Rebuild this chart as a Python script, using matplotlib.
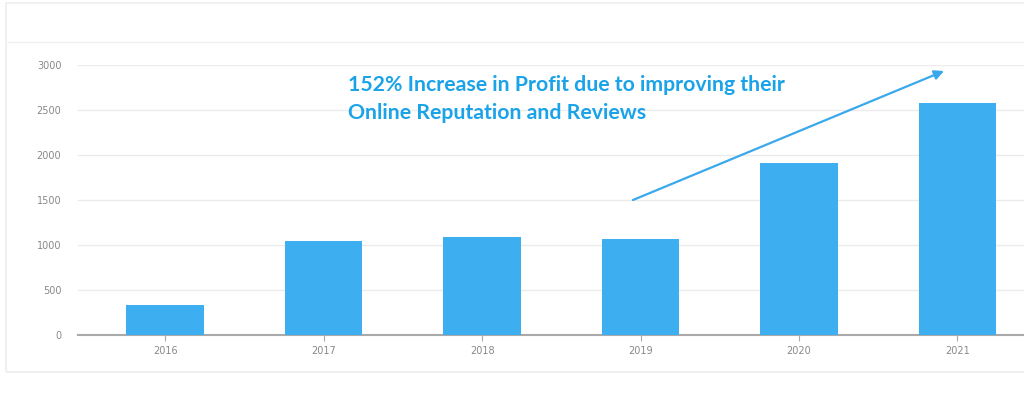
import matplotlib.pyplot as plt
from matplotlib.patches import Rectangle

years = ['2016', '2017', '2018', '2019', '2020', '2021']
profit = [333, 1044, 1089, 1063, 1914, 2574]
y_ticks = [0, 500, 1000, 1500, 2000, 2500, 3000]
note = '152% Increase in Profit due to improving their\nOnline Reputation and Reviews'

fig = plt.figure(figsize=(10.24, 3.97), dpi=100)
W, H = 1024, 397

# light frame around the chart card
fig.add_artist(Rectangle((6 / W, 1 - 372 / H), 1.1, (372 - 3) / H, transform=fig.transFigure,
                         fill=False, ec='#eeeeee', lw=1.2))
fig.add_artist(plt.Line2D([6 / W, 1], [1 - 42 / H] * 2, transform=fig.transFigure,
                          color='#f2f2f2', lw=1))

ax = fig.add_axes([78 / W, 1 - 335 / H, (1024 - 78) / W, 270 / H])
x = range(len(years))
ax.bar(x, profit, width=0.49, color='#3daef0', zorder=3)
ax.set_xlim(-0.55, 5.42)
ax.set_ylim(0, 3000)
ax.set_yticks(y_ticks)
ax.set_xticks(list(x))
ax.set_xticklabels(years)
ax.grid(axis='y', color='#ebebeb', lw=1, zorder=0)
for s in ['top', 'right', 'left']:
    ax.spines[s].set_visible(False)
ax.spines['bottom'].set_color('#aaaaaa')
ax.spines['bottom'].set_linewidth(1.5)
ax.tick_params(axis='y', length=0, pad=12, labelsize=7, labelcolor='#888888')
ax.tick_params(axis='x', length=4, color='#aaaaaa', pad=4, labelsize=7, labelcolor='#888888')

ax.text(348 / W, 1 - 75 / H, note, transform=fig.transFigure, color='#1aa3e8',
        fontsize=15.3, fontweight='bold', family='Lato', va='top', linespacing=1.5)

ax.annotate('', xy=(944 / W, 1 - 71 / H), xytext=(633 / W, 1 - 200 / H),
            xycoords='figure fraction', textcoords='figure fraction',
            arrowprops=dict(arrowstyle='-|>', color='#3aa8ec', lw=1.6,
                            mutation_scale=14, shrinkA=0, shrinkB=0))

fig.savefig('out.png', dpi=100)
